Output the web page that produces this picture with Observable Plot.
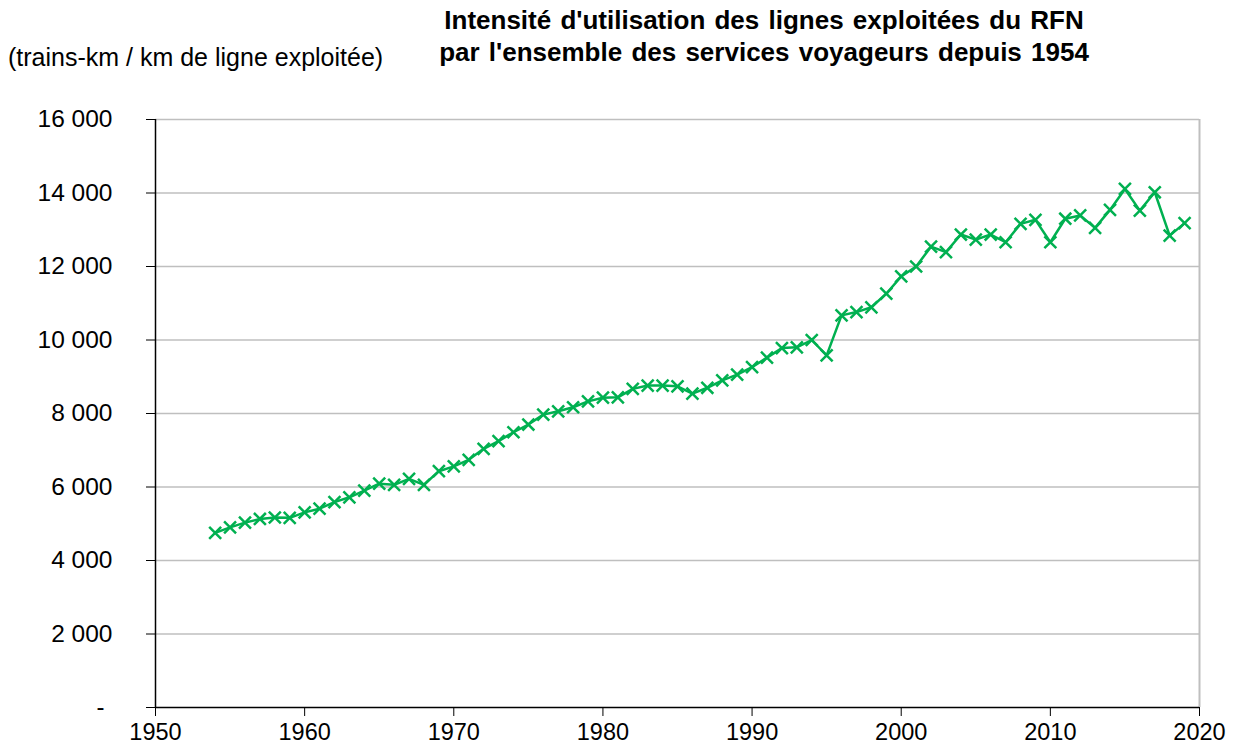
<!DOCTYPE html>
<html><head><meta charset="utf-8">
<script src="https://cdn.jsdelivr.net/npm/d3@7"></script>
<script src="https://cdn.jsdelivr.net/npm/@observablehq/plot@0.6"></script>
<style>
body{margin:0;background:#fff;}
#wrap{position:relative;width:1236px;height:751px;}
#title{position:absolute;left:364px;width:800px;top:4px;text-align:center;font-family:"Liberation Sans",Arial,sans-serif;font-weight:bold;font-size:26px;line-height:32px;word-spacing:2px;color:#000;}
#unit{position:absolute;left:8px;top:41px;font-family:"Liberation Sans",Arial,sans-serif;font-size:25px;line-height:32px;color:#000;white-space:nowrap;}
#chart{position:absolute;left:0;top:0;}
</style>
</head><body>
<div id="wrap">
<div id="chart"></div>
<div id="title">Intensité d'utilisation des lignes exploitées du RFN<br>par l'ensemble des services voyageurs depuis 1954</div>
<div id="unit">(trains-km / km de ligne exploitée)</div>
</div>
<script>
const years = [1954,1955,1956,1957,1958,1959,1960,1961,1962,1963,1964,1965,1966,1967,1968,1969,1970,1971,1972,1973,1974,1975,1976,1977,1978,1979,1980,1981,1982,1983,1984,1985,1986,1987,1988,1989,1990,1991,1992,1993,1994,1995,1996,1997,1998,1999,2000,2001,2002,2003,2004,2005,2006,2007,2008,2009,2010,2011,2012,2013,2014,2015,2016,2017,2018,2019];
const values = [4750,4900,5030,5130,5170,5160,5310,5410,5590,5720,5900,6090,6060,6220,6060,6430,6560,6740,7040,7250,7490,7700,7970,8060,8170,8330,8430,8440,8670,8760,8760,8740,8540,8700,8900,9060,9260,9520,9780,9800,10000,9580,10670,10760,10890,11260,11730,12000,12540,12390,12870,12730,12870,12660,13160,13270,12660,13300,13390,13050,13540,14110,13520,14020,12840,13180];
const xTicks = [1950,1960,1970,1980,1990,2000,2010,2020];
const yTicks = [0,2000,4000,6000,8000,10000,12000,14000,16000];

const data = years.map((year, i) => ({year, value: values[i]}));
const green = "#00b050";
const fmt = d => d3.format(",")(d).replace(/,/g, " ");

const chart = Plot.plot({
  width: 1236, height: 751,
  marginTop: 119, marginLeft: 155, marginRight: 37, marginBottom: 44,
  style: {fontFamily: "'Liberation Sans', Arial, sans-serif", background: "#fff", color: "#000"},
  x: {domain: [1950, 2020]},
  y: {domain: [0, 16000]},
  marks: [
    Plot.gridY(yTicks.filter(d => d > 0), {stroke: "#bfbfbf", strokeOpacity: 1, strokeWidth: 1.5}),
    Plot.ruleX([2020], {stroke: "#bfbfbf", strokeWidth: 2}),
    Plot.axisY(yTicks, {tickSize: 9, tickPadding: 34, tickFormat: d => d === 0 ? "" : fmt(d), fontSize: 24.5, label: null, stroke: "#000"}),
    Plot.text([0], {y: d => d, frameAnchor: "left", dx: -59, text: d => "-", fontSize: 24}),
    Plot.axisX(xTicks, {tickSize: 9, tickPadding: 7, tickFormat: d => String(d), fontSize: 23.5, label: null, stroke: "#000"}),
    Plot.ruleX([1950], {stroke: "#000", strokeWidth: 1.5}),
    Plot.ruleY([0], {stroke: "#000", strokeWidth: 1.5}),
    Plot.line(data, {x: "year", y: "value", stroke: green, strokeWidth: 2.5}),
    Plot.dot(data, {x: "year", y: "value", symbol: "times", r: 5.5, stroke: green, strokeWidth: 2.5})
  ]
});
document.getElementById("chart").appendChild(chart);
</script>
</body></html>
